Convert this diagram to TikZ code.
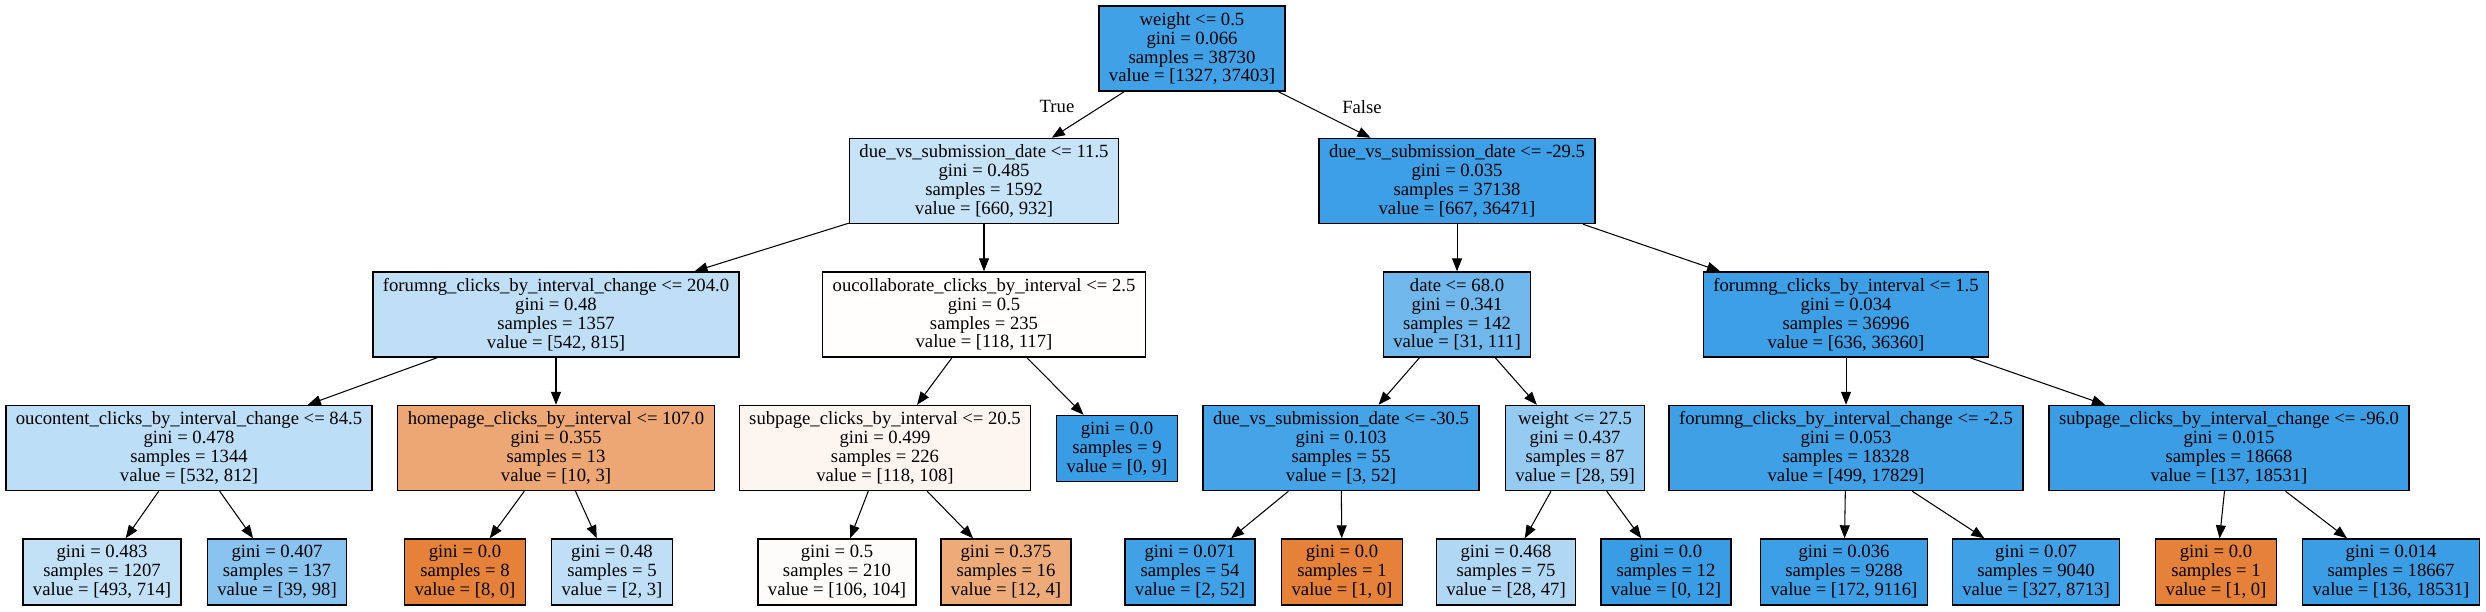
\documentclass[tikz,border=0pt]{standalone}
\usepackage{fontspec}
\setmainfont{Liberation Serif}
\usetikzlibrary{arrows.meta}
\definecolor{clsA}{RGB}{229,129,57}
\definecolor{clsB}{RGB}{57,157,229}
\tikzset{
  box/.style={draw,line width=0.4pt,inner xsep=0.1cm,inner ysep=0pt,align=center,font=\fontsize{5.31}{5.39}\selectfont},
  split/.style={box,minimum height=0.85cm},
  leaf/.style={box,minimum height=0.66cm},
  lab/.style={font=\fontsize{5.31}{5.39}\selectfont},
  edge/.style={line width=0.3pt,-{Triangle[length=0.13cm,width=0.1cm]}},
}
\newcommand{\dsplit}[4]{#1\\gini = #2\\samples = #3\\value = [#4]}
\newcommand{\dleaf}[3]{gini = #1\\samples = #2\\value = [#3]}

\begin{document}
\begin{tikzpicture}[x=0.01cm,y=-0.01cm]
  \useasboundingbox (0,0) rectangle (2486,611);
  % root
  \node[split,fill=clsB!96] (n0) at (1192,48.5) {\dsplit{weight <= 0.5}{0.066}{38730}{1327, 37403}};
  % level 1
  \node[split,fill=clsB!29] (n1) at (984,181) {\dsplit{due\_vs\_submission\_date <= 11.5}{0.485}{1592}{660, 932}};
  \node[split,fill=clsB!98] (n2) at (1457,181) {\dsplit{due\_vs\_submission\_date <= -29.5}{0.035}{37138}{667, 36471}};
  % level 2
  \node[split,fill=clsB!33] (n3) at (556,314.5) {\dsplit{forumng\_clicks\_by\_interval\_change <= 204.0}{0.48}{1357}{542, 815}};
  \node[split,fill=clsA!1] (n4) at (984,314.5) {\dsplit{oucollaborate\_clicks\_by\_interval <= 2.5}{0.5}{235}{118, 117}};
  \node[split,fill=clsB!72] (n5) at (1457,314.5) {\dsplit{date <= 68.0}{0.341}{142}{31, 111}};
  \node[split,fill=clsB!98] (n6) at (1846,314.5) {\dsplit{forumng\_clicks\_by\_interval <= 1.5}{0.034}{36996}{636, 36360}};
  % level 3
  \node[split,fill=clsB!34] (n7) at (189,448) {\dsplit{oucontent\_clicks\_by\_interval\_change <= 84.5}{0.478}{1344}{532, 812}};
  \node[split,fill=clsA!70] (n8) at (556,448) {\dsplit{homepage\_clicks\_by\_interval <= 107.0}{0.355}{13}{10, 3}};
  \node[split,fill=clsA!8] (n9) at (885,448) {\dsplit{subpage\_clicks\_by\_interval <= 20.5}{0.499}{226}{118, 108}};
  \node[leaf,fill=clsB] (n10) at (1117,448.5) {\dleaf{0.0}{9}{0, 9}};
  \node[split,fill=clsB!94] (n11) at (1341,448) {\dsplit{due\_vs\_submission\_date <= -30.5}{0.103}{55}{3, 52}};
  \node[split,fill=clsB!53] (n12) at (1575,448) {\dsplit{weight <= 27.5}{0.437}{87}{28, 59}};
  \node[split,fill=clsB!97] (n13) at (1846,448) {\dsplit{forumng\_clicks\_by\_interval\_change <= -2.5}{0.053}{18328}{499, 17829}};
  \node[split,fill=clsB!99] (n14) at (2229,448) {\dsplit{subpage\_clicks\_by\_interval\_change <= -96.0}{0.015}{18668}{137, 18531}};
  % level 4
  \node[leaf,fill=clsB!31] (n15) at (102,572) {\dleaf{0.483}{1207}{493, 714}};
  \node[leaf,fill=clsB!60] (n16) at (277,572) {\dleaf{0.407}{137}{39, 98}};
  \node[leaf,fill=clsA] (n17) at (465,572) {\dleaf{0.0}{8}{8, 0}};
  \node[leaf,fill=clsB!33] (n18) at (612,572) {\dleaf{0.48}{5}{2, 3}};
  \node[leaf,fill=clsA!2] (n19) at (837,572) {\dleaf{0.5}{210}{106, 104}};
  \node[leaf,fill=clsA!67] (n20) at (1006,572) {\dleaf{0.375}{16}{12, 4}};
  \node[leaf,fill=clsB!96] (n21) at (1190,572) {\dleaf{0.071}{54}{2, 52}};
  \node[leaf,fill=clsA] (n22) at (1342,572) {\dleaf{0.0}{1}{1, 0}};
  \node[leaf,fill=clsB!40] (n23) at (1506,572) {\dleaf{0.468}{75}{28, 47}};
  \node[leaf,fill=clsB] (n24) at (1666,572) {\dleaf{0.0}{12}{0, 12}};
  \node[leaf,fill=clsB!98] (n25) at (1844,572) {\dleaf{0.036}{9288}{172, 9116}};
  \node[leaf,fill=clsB!96] (n26) at (2036,572) {\dleaf{0.07}{9040}{327, 8713}};
  \node[leaf,fill=clsA] (n27) at (2216,572) {\dleaf{0.0}{1}{1, 0}};
  \node[leaf,fill=clsB!99] (n28) at (2391,572) {\dleaf{0.014}{18667}{136, 18531}};
  % edges
  \foreach \a/\b in {n0/n1,n0/n2,n1/n3,n1/n4,n2/n5,n2/n6,n3/n7,n3/n8,n4/n9,n4/n10,
                     n5/n11,n5/n12,n6/n13,n6/n14,n7/n15,n7/n16,n8/n17,n8/n18,n9/n19,n9/n20,
                     n11/n21,n11/n22,n12/n23,n12/n24,n13/n25,n13/n26,n14/n27,n14/n28}
    \draw[edge] (\a) -- (\b);
  \node[lab] (ltrue) at (1057,106) {True};
  \node[lab] (lfalse) at (1362,107) {False};
\end{tikzpicture}
\end{document}
